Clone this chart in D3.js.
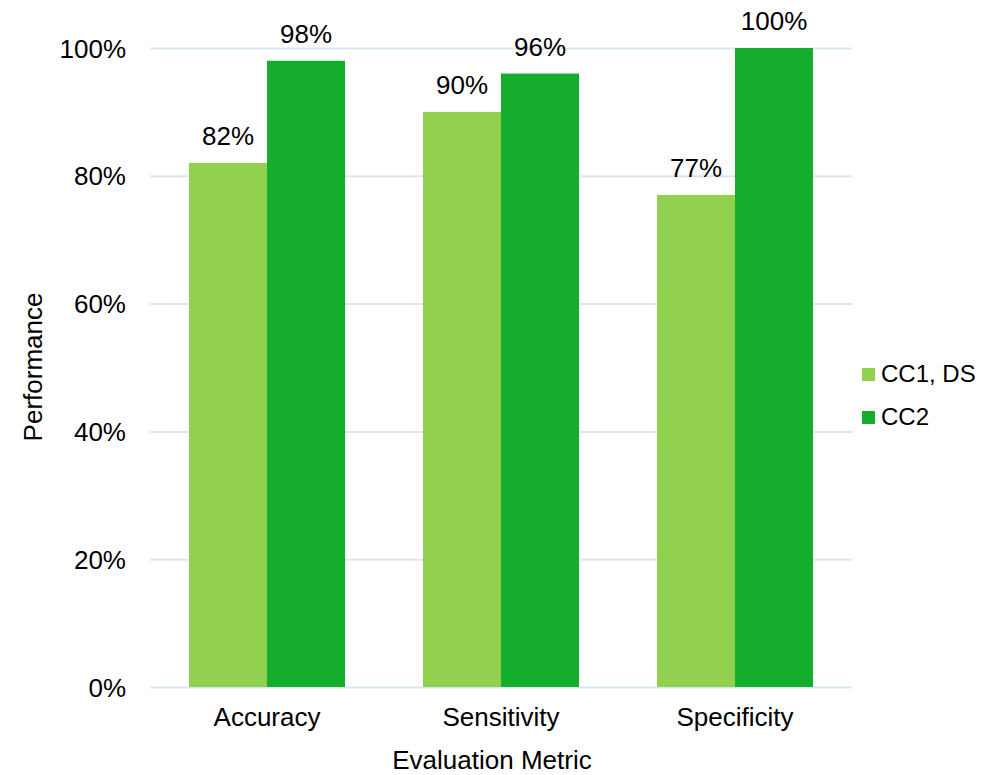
<!DOCTYPE html>
<html>
<head>
<meta charset="utf-8">
<script src="https://cdn.jsdelivr.net/npm/d3@7"></script>
<style>
  html, body { margin: 0; padding: 0; background: #fff; }
  svg { display: block; font-family: "Liberation Sans", Arial, sans-serif; }
</style>
</head>
<body>
<svg id="chart" width="990" height="775"></svg>
<script>
// Evaluation metrics and performance per model
const categories = ["Accuracy", "Sensitivity", "Specificity"];
const seriesNames = ["CC1, DS", "CC2"];
const cc1Values = [0.82, 0.90, 0.77];
const cc2Values = [0.98, 0.96, 1.00];
const yTicks = [0, 0.2, 0.4, 0.6, 0.8, 1.0];
const colors = ["#92D050", "#14AD2E"];

const svg = d3.select("#chart");

const y = d3.scaleLinear().domain([0, 1]).range([687, 48]);
const x0 = d3.scaleBand().domain(categories).range([150, 852])
  .paddingInner(1 / 3).paddingOuter(1 / 6);
const x1 = d3.scaleBand().domain(seriesNames).range([0, x0.bandwidth()]);

// Gridlines
const gridAxis = d3.axisLeft(y).tickValues(yTicks).tickSize(-(852 - 150)).tickFormat("");
const grid = svg.append("g").attr("transform", "translate(150,0)").call(gridAxis);
grid.select(".domain").remove();
grid.selectAll("line").attr("stroke", "#D6E8F8").attr("stroke-width", 2);

// Y tick labels
const yAxis = d3.axisLeft(y).tickValues(yTicks).tickSize(0).tickPadding(24)
  .tickFormat(d3.format(".0%"));
const ya = svg.append("g").attr("transform", "translate(150,0)").call(yAxis);
ya.select(".domain").remove();
ya.selectAll("text").attr("font-size", 26).attr("fill", "#000")
  .attr("font-family", "Liberation Sans, Arial, sans-serif").attr("dy", "0.35em");

// X category labels
const xAxis = d3.axisBottom(x0).tickSize(0).tickPadding(21);
const xa = svg.append("g").attr("transform", "translate(0,687)").call(xAxis);
xa.select(".domain").remove();
xa.selectAll("text").attr("font-size", 26).attr("fill", "#000")
  .attr("font-family", "Liberation Sans, Arial, sans-serif");

// Bars
const rows = categories.map((c, i) => ({ cat: c, vals: [cc1Values[i], cc2Values[i]] }));
const groups = svg.append("g").selectAll("g").data(rows).join("g")
  .attr("transform", d => `translate(${x0(d.cat)},0)`);

groups.selectAll("rect").data(d => d.vals.map((v, j) => ({ name: seriesNames[j], v, j })))
  .join("rect")
  .attr("x", d => x1(d.name))
  .attr("width", x1.bandwidth())
  .attr("y", d => y(d.v))
  .attr("height", d => y(0) - y(d.v))
  .attr("fill", d => colors[d.j]);

// Data labels
groups.selectAll("text").data(d => d.vals.map((v, j) => ({ name: seriesNames[j], v, j })))
  .join("text")
  .attr("x", d => x1(d.name) + x1.bandwidth() / 2)
  .attr("y", d => y(d.v) - 18)
  .attr("text-anchor", "middle")
  .attr("font-size", 26)
  .attr("fill", "#000")
  .text(d => d3.format(".0%")(d.v));

// Axis titles
svg.append("text")
  .attr("x", 492).attr("y", 769)
  .attr("text-anchor", "middle")
  .attr("font-size", 26).attr("fill", "#000")
  .text("Evaluation Metric");

svg.append("text")
  .attr("transform", "translate(42,367) rotate(-90)")
  .attr("text-anchor", "middle")
  .attr("font-size", 26).attr("fill", "#000")
  .text("Performance");

// Legend
const legend = svg.append("g").attr("transform", "translate(862,368)");
const li = legend.selectAll("g").data(seriesNames).join("g")
  .attr("transform", (d, i) => `translate(0,${i * 43})`);
li.append("rect").attr("width", 13).attr("height", 13).attr("fill", (d, i) => colors[i]);
li.append("text").attr("x", 19).attr("y", 14)
  .attr("font-size", 24).attr("fill", "#000").text(d => d);
</script>
</body>
</html>
